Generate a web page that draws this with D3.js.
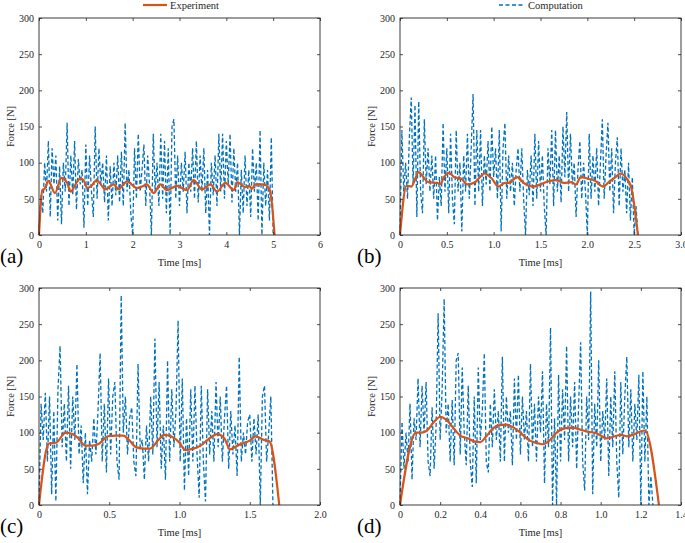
<!DOCTYPE html>
<html>
<head>
<meta charset="utf-8">
<script src="https://cdn.jsdelivr.net/npm/d3@7"></script>
<style>
  body { margin: 0; background: #fff; }
  text { font-family: "Liberation Serif", "Times New Roman", serif; fill: #262626; }
</style>
</head>
<body>
<script>
// experiment curves, [time ms, force N]
var expA = [[0,0],[0.07,62],[0.12,64],[0.2,75],[0.34,58],[0.48,79],[0.6,72],[0.68,60],[0.78,70],[0.88,78],[0.95,76],[1.03,65],[1.12,68],[1.23,76],[1.32,70],[1.41,63],[1.6,70],[1.7,63],[1.8,70],[1.88,74],[2.09,65],[2.2,67],[2.3,70],[2.45,58],[2.59,70],[2.73,62],[2.95,68],[3.16,62],[3.3,76],[3.48,63],[3.66,70],[3.8,60],[3.98,72],[4.16,62],[4.23,73],[4.41,66],[4.48,68],[4.55,64],[4.62,70],[4.8,70],[4.93,62],[5.03,0]];
var expB = [[0,0],[0.07,68],[0.12,67],[0.2,87],[0.25,80],[0.3,73],[0.4,72],[0.43,70],[0.47,80],[0.52,86],[0.58,80],[0.65,78],[0.72,70],[0.8,73],[0.87,82],[0.9,85],[0.98,78],[1.05,67],[1.12,72],[1.16,72],[1.25,80],[1.32,72],[1.42,67],[1.5,70],[1.58,74],[1.67,76],[1.75,72],[1.83,73],[1.88,70],[1.93,80],[2.0,78],[2.08,75],[2.17,67],[2.22,72],[2.3,80],[2.35,85],[2.42,78],[2.47,65],[2.54,0]];
var expC = [[0,0],[0.07,85],[0.12,86],[0.19,100],[0.24,98],[0.28,92],[0.33,82],[0.38,82],[0.43,85],[0.49,95],[0.55,96],[0.6,96],[0.64,90],[0.69,80],[0.75,78],[0.79,78],[0.85,90],[0.89,97],[0.94,95],[1.0,86],[1.04,76],[1.1,78],[1.15,82],[1.2,90],[1.27,98],[1.32,92],[1.36,77],[1.41,82],[1.46,86],[1.5,89],[1.54,95],[1.6,90],[1.64,88],[1.71,0]];
var expD = [[0,0],[0.08,100],[0.1,100],[0.13,102],[0.17,115],[0.2,122],[0.23,118],[0.27,105],[0.3,96],[0.34,92],[0.37,88],[0.4,87],[0.43,95],[0.46,105],[0.49,110],[0.53,111],[0.56,108],[0.6,100],[0.64,90],[0.68,86],[0.71,84],[0.74,88],[0.78,100],[0.82,106],[0.86,107],[0.9,104],[0.94,101],[0.97,100],[1.0,96],[1.03,92],[1.07,95],[1.1,97],[1.13,95],[1.16,97],[1.2,102],[1.22,103],[1.29,0]];

// computation signals, sampled every dt ms from t = 0
var compA_dt = 0.04;
var compA = [0,55,30,100,60,130,25,120,70,110,20,95,15,100,60,155,40,110,55,130,35,105,70,90,10,125,40,110,60,25,150,50,120,70,100,45,110,20,95,40,100,55,110,45,115,40,155,60,90,30,0,120,50,140,60,90,125,40,110,70,0,140,60,100,40,140,50,130,30,120,0,150,160,50,110,40,100,60,115,30,100,60,120,50,130,45,110,60,120,30,90,0,100,55,110,40,140,60,140,50,130,70,140,45,120,60,100,0,90,30,110,40,90,25,120,60,100,20,145,0,100,40,90,20,135,0];
var compB_dt = 0.02;
var compB = [0,145,60,100,50,135,190,70,180,25,185,60,30,160,70,120,60,110,50,110,20,80,40,155,60,120,30,140,50,15,145,60,100,5,110,60,140,50,120,195,40,145,60,145,40,110,70,130,60,150,80,120,50,145,5,120,155,50,110,60,100,40,90,120,60,120,50,0,90,55,110,40,140,50,130,60,110,40,0,120,70,145,40,145,60,110,45,150,80,170,60,140,70,100,25,90,130,50,100,60,0,140,50,110,60,120,40,100,160,50,110,155,60,120,30,100,135,40,120,60,90,30,100,20,80,0,40,0];
var compC_dt = 0.015;
var compC = [0,140,90,155,60,150,15,130,5,160,220,80,140,60,165,50,150,90,195,70,110,30,100,15,90,60,120,70,130,210,60,140,45,175,70,150,170,60,35,290,100,150,70,120,135,60,40,195,80,90,35,110,60,150,70,230,80,170,50,110,35,200,60,160,80,130,255,60,175,20,120,40,160,60,165,70,10,165,60,5,160,70,130,60,170,80,150,60,120,165,50,130,70,110,40,205,60,100,70,115,125,60,120,70,125,0,150,165,60,100,150,0];
var compD_dt = 0.01;
var compD = [0,115,50,100,60,140,35,120,90,175,80,165,100,170,60,40,135,50,110,265,90,160,285,100,140,60,145,55,200,210,70,190,100,55,165,60,25,150,30,190,90,130,210,60,45,140,80,160,90,130,60,205,60,150,100,130,55,175,90,180,70,150,90,130,60,195,80,140,60,150,100,185,30,140,80,245,0,120,0,180,60,160,90,220,60,150,80,170,50,140,225,60,20,150,90,295,15,140,80,200,60,130,90,175,40,150,80,185,60,10,170,70,150,205,80,160,60,140,90,180,0,185,60,150,0,40,0];

var forceTicks = [0, 50, 100, 150, 200, 250, 300];
var ticksA = [0, 1, 2, 3, 4, 5, 6];
var ticksB = [0, 0.5, 1.0, 1.5, 2.0, 2.5, 3.0];
var ticksC = [0, 0.5, 1.0, 1.5, 2.0];
var ticksD = [0, 0.2, 0.4, 0.6, 0.8, 1.0, 1.2, 1.4];

var orange = "#D95319", blue = "#0072BD";
var serif = "Liberation Serif";

var svg = d3.select("body").append("svg")
            .attr("width", 685)
            .attr("height", 543);

var panels = [
  {label: "(a)", x0: 39,  y0: 18,  xmax: 6,   ticks: ticksA, exp: expA, comp: compA, dt: compA_dt, lx: 0,   fmt: d3.format("d")},
  {label: "(b)", x0: 400, y0: 18,  xmax: 3.0, ticks: ticksB, exp: expB, comp: compB, dt: compB_dt, lx: 357},
  {label: "(c)", x0: 39,  y0: 288, xmax: 2.0, ticks: ticksC, exp: expC, comp: compC, dt: compC_dt, lx: 0},
  {label: "(d)", x0: 400, y0: 288, xmax: 1.4, ticks: ticksD, exp: expD, comp: compD, dt: compD_dt, lx: 357}
];

var pw = 281, ph = 217;
var oneDec = function(v) { return v === 0 ? "0" : d3.format(".1f")(v); };

panels.forEach(function(p) {
  var g = svg.append("g").attr("transform", "translate(" + p.x0 + "," + p.y0 + ")");

  var x = d3.scaleLinear().domain([0, p.xmax]).range([0, pw]);
  var y = d3.scaleLinear().domain([0, 300]).range([ph, 0]);

  var line = d3.line().x(function(d) { return x(d[0]); }).y(function(d) { return y(d[1]); });

  // computation (dashed)
  var compPts = p.comp.map(function(v, i) { return [i * p.dt, v]; });
  g.append("path")
   .datum(compPts)
   .attr("d", line)
   .style("fill", "none")
   .style("stroke", blue)
   .style("stroke-width", 1.3)
   .style("stroke-dasharray", "4,2.5");

  // experiment (solid)
  g.append("path")
   .datum(p.exp)
   .attr("d", line.curve(d3.curveMonotoneX))
   .style("fill", "none")
   .style("stroke", orange)
   .style("stroke-width", 2.2);

  // axes, ticks pointing inward like MATLAB, on all four sides
  var xAxis = g.append("g")
               .attr("transform", "translate(0," + ph + ")")
               .call(d3.axisBottom(x).tickValues(p.ticks).tickFormat(p.fmt || oneDec)
                       .tickSize(-3).tickPadding(6));
  var yAxis = g.append("g")
               .call(d3.axisLeft(y).tickValues(forceTicks).tickSize(-3).tickPadding(5));
  var xTop = g.append("g")
              .call(d3.axisTop(x).tickValues(p.ticks).tickSize(-3).tickFormat(""));
  var yRight = g.append("g")
                .attr("transform", "translate(" + pw + ",0)")
                .call(d3.axisRight(y).tickValues(forceTicks).tickSize(-3).tickFormat(""));

  [xAxis, yAxis, xTop, yRight].forEach(function(a) {
    a.select(".domain").remove();
    a.selectAll("line").style("stroke", "#262626").style("stroke-width", 0.8);
    a.selectAll("text").attr("font-family", serif).style("font-family", serif)
     .style("font-size", "10px").style("fill", "#262626");
  });

  g.append("rect")
   .attr("width", pw)
   .attr("height", ph)
   .style("fill", "none")
   .style("stroke", "#262626")
   .style("stroke-width", 0.9);

  g.append("text")
   .attr("x", pw / 2)
   .attr("y", ph + 31)
   .attr("text-anchor", "middle")
   .style("font-family", serif)
   .style("font-size", "10.5px")
   .text("Time [ms]");

  g.append("text")
   .attr("transform", "translate(-25," + (ph / 2) + ") rotate(-90)")
   .attr("text-anchor", "middle")
   .style("font-family", serif)
   .style("font-size", "10.5px")
   .text("Force [N]");

  svg.append("text")
     .attr("x", p.lx)
     .attr("y", p.y0 + ph + 28)
     .style("font-family", serif)
     .style("font-size", "21px")
     .style("fill", "#000")
     .text(p.label);
});

// legend
svg.append("line")
   .attr("x1", 143).attr("x2", 167).attr("y1", 5).attr("y2", 5)
   .style("stroke", orange).style("stroke-width", 2.2);
svg.append("text")
   .attr("x", 170).attr("y", 9)
   .style("font-family", serif)
   .style("font-size", "10.5px")
   .text("Experiment");

svg.append("line")
   .attr("x1", 499).attr("x2", 525).attr("y1", 5).attr("y2", 5)
   .style("stroke", blue).style("stroke-width", 1.3).style("stroke-dasharray", "4,2.5");
svg.append("text")
   .attr("x", 528).attr("y", 9)
   .style("font-family", serif)
   .style("font-size", "10.5px")
   .text("Computation");
</script>
</body>
</html>
